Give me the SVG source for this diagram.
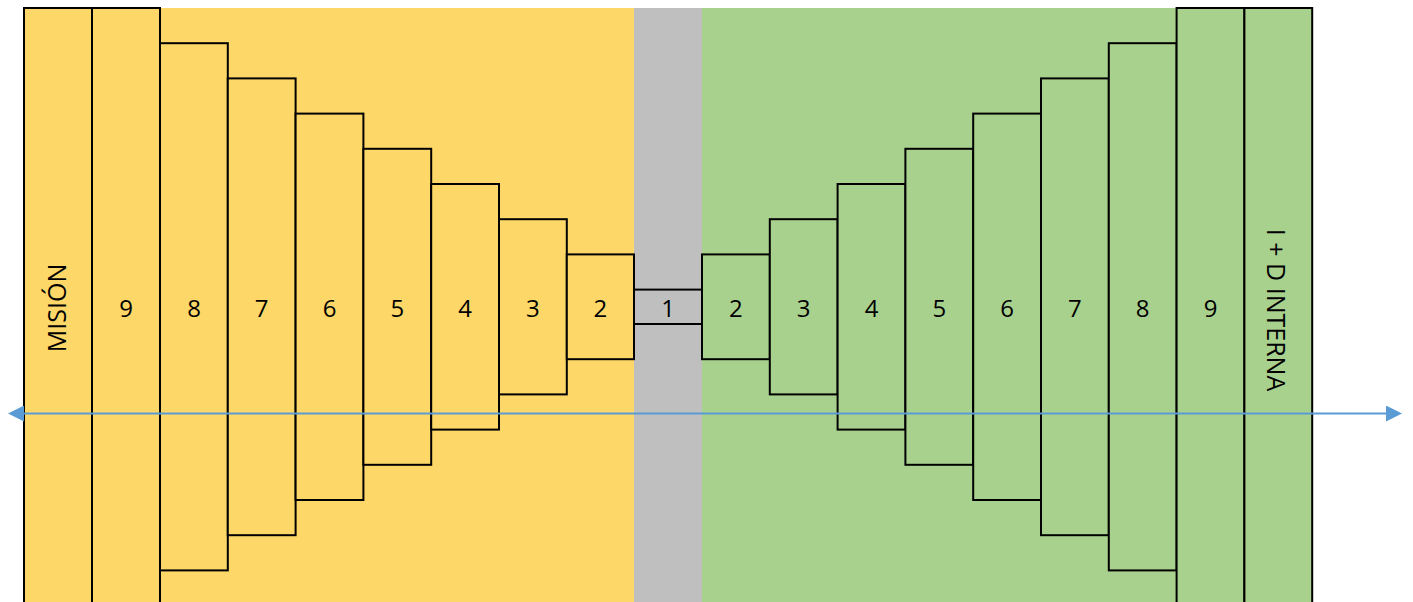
<svg xmlns="http://www.w3.org/2000/svg" width="1413" height="602" viewBox="0 0 1413 602">
  <style>
    .box { stroke: #000; stroke-width: 2; }
    .y { fill: #FDD868; }
    .g { fill: #A9D18E; }
    .c { fill: #BFBFBF; }
    .lbl { font-family: "Open Sans", "Liberation Sans", sans-serif; font-size: 24px; fill: #000; text-anchor: middle; }
    .side { font-family: "Open Sans", "Liberation Sans", sans-serif; font-size: 25px; fill: #000; text-anchor: middle; }
    .axis { stroke: #5B9BD5; stroke-width: 2; fill: none; }
  </style>
  <defs>
    <marker id="head" viewBox="0 0 16 16" refX="2" refY="8" markerWidth="16" markerHeight="16" markerUnits="userSpaceOnUse" orient="auto-start-reverse">
      <path d="M0,0 L16,8 L0,16 Z" fill="#5B9BD5"/>
    </marker>
  </defs>

  <!-- background bands -->
  <rect x="24" y="8" width="610" height="595" class="y"/>
  <rect x="634" y="8" width="68" height="595" class="c"/>
  <rect x="702" y="8" width="610" height="595" class="g"/>

  <!-- left side: yellow steps -->
  <g id="mision">
    <rect x="24" y="8" width="68" height="600" class="box y"/>
    <text class="side" transform="translate(66 308) rotate(-90)">MISIÓN</text>
  </g>
  <g id="l9"><rect x="92" y="8" width="68" height="600" class="box y"/><text class="lbl" x="126" y="317">9</text></g>
  <g id="l8"><rect x="160" y="43.2" width="67.8" height="527.2" class="box y"/><text class="lbl" x="194" y="317">8</text></g>
  <g id="l7"><rect x="227.8" y="78.4" width="67.8" height="456.8" class="box y"/><text class="lbl" x="261.7" y="317">7</text></g>
  <g id="l6"><rect x="295.6" y="113.6" width="67.8" height="386.4" class="box y"/><text class="lbl" x="329.5" y="317">6</text></g>
  <g id="l5"><rect x="363.4" y="148.8" width="67.8" height="316" class="box y"/><text class="lbl" x="397.3" y="317">5</text></g>
  <g id="l4"><rect x="431.2" y="184" width="67.8" height="245.6" class="box y"/><text class="lbl" x="465.1" y="317">4</text></g>
  <g id="l3"><rect x="499" y="219.2" width="67.8" height="175.2" class="box y"/><text class="lbl" x="532.9" y="317">3</text></g>
  <g id="l2"><rect x="566.8" y="254.4" width="67.2" height="104.8" class="box y"/><text class="lbl" x="600.4" y="317">2</text></g>

  <!-- centre -->
  <g id="c1"><rect x="634" y="289.6" width="68" height="34.4" class="box c"/><text class="lbl" x="668" y="317">1</text></g>

  <!-- right side: green steps -->
  <g id="r2"><rect x="702" y="254.4" width="67.8" height="104.8" class="box g"/><text class="lbl" x="735.9" y="317">2</text></g>
  <g id="r3"><rect x="769.8" y="219.2" width="67.8" height="175.2" class="box g"/><text class="lbl" x="803.7" y="317">3</text></g>
  <g id="r4"><rect x="837.6" y="184" width="67.8" height="245.6" class="box g"/><text class="lbl" x="871.5" y="317">4</text></g>
  <g id="r5"><rect x="905.4" y="148.8" width="67.8" height="316" class="box g"/><text class="lbl" x="939.3" y="317">5</text></g>
  <g id="r6"><rect x="973.2" y="113.6" width="67.8" height="386.4" class="box g"/><text class="lbl" x="1007.1" y="317">6</text></g>
  <g id="r7"><rect x="1041" y="78.4" width="67.8" height="456.8" class="box g"/><text class="lbl" x="1074.9" y="317">7</text></g>
  <g id="r8"><rect x="1108.8" y="43.2" width="67.8" height="527.2" class="box g"/><text class="lbl" x="1142.7" y="317">8</text></g>
  <g id="r9"><rect x="1176.6" y="8" width="67.8" height="600" class="box g"/><text class="lbl" x="1210.5" y="317">9</text></g>
  <g id="idi">
    <rect x="1244.4" y="8" width="67.8" height="600" class="box g"/>
    <text class="side" transform="translate(1267 310) rotate(90)">I + D INTERNA</text>
  </g>

  <!-- horizontal axis -->
  <g id="connectors">
    <line class="axis" x1="22" y1="413.5" x2="1388" y2="413.5" marker-start="url(#head)" marker-end="url(#head)"/>
  </g>
</svg>
